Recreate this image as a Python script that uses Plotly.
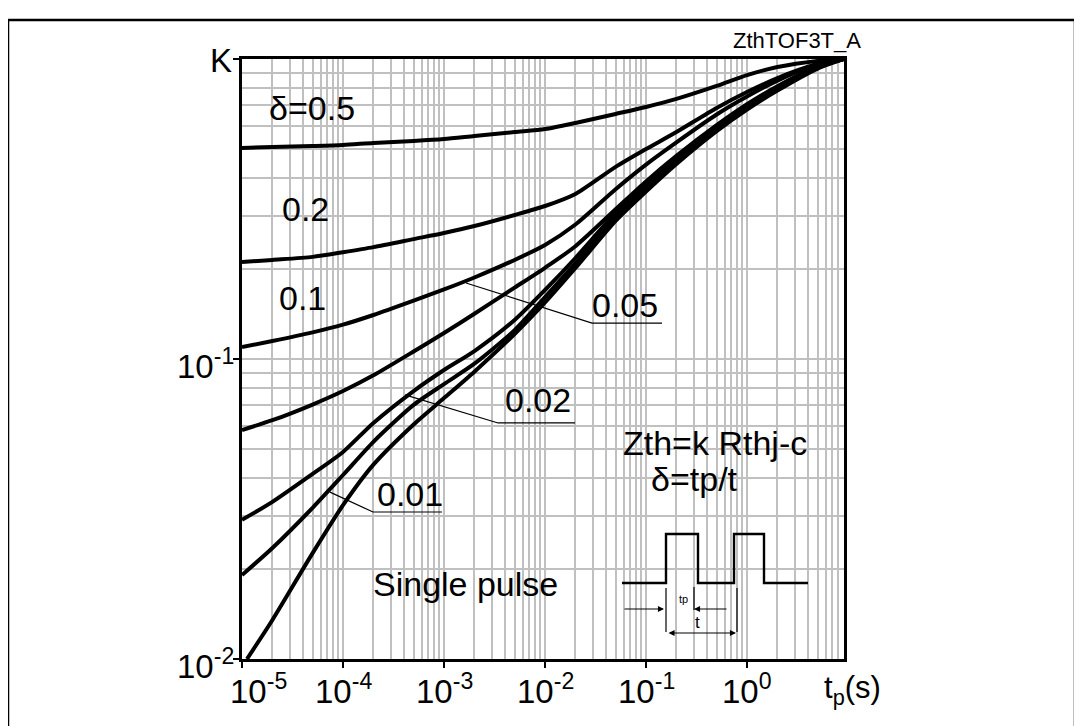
import plotly.graph_objects as go

# ---------------- data ----------------
t_grid = [1e-5, 2e-5, 5e-5, 1e-4, 2e-4, 5e-4, 1e-3, 2e-3, 5e-3, 1e-2,
          2e-2, 5e-2, 0.1, 0.2, 0.5, 1.0, 2.0, 5.0, 9.1]
t_single = [1.12e-5, 2e-5, 5e-5, 1e-4, 2e-4, 5e-4, 1e-3, 2e-3, 5e-3, 1e-2,
            2e-2, 5e-2, 0.1, 0.2, 0.5, 1.0, 2.0, 5.0, 9.1]

k_d050 = [0.505, 0.509, 0.513, 0.517, 0.525, 0.533, 0.541, 0.554, 0.571, 0.584,
          0.612, 0.656, 0.692, 0.736, 0.813, 0.884, 0.940, 0.985, 1.0]
k_d020 = [0.2105, 0.214, 0.219, 0.227, 0.236, 0.251, 0.263, 0.2775, 0.302, 0.3236,
          0.355, 0.437, 0.501, 0.571, 0.687, 0.776, 0.864, 0.962, 1.0]
k_d010 = [0.1096, 0.1148, 0.1227, 0.1302, 0.1402, 0.1565, 0.1705, 0.1869, 0.2139, 0.2400,
          0.2807, 0.3681, 0.4446, 0.5272, 0.6531, 0.7499, 0.8472, 0.9638, 1.0]
k_d005 = [0.0580, 0.0625, 0.0705, 0.0782, 0.0882, 0.1059, 0.1221, 0.1415, 0.1730, 0.2014,
          0.2377, 0.3155, 0.3908, 0.4753, 0.6016, 0.7067, 0.8114, 0.9470, 1.0]
k_d002 = [0.0291, 0.0334, 0.0414, 0.0490, 0.0612, 0.0782, 0.0919, 0.1063, 0.1349, 0.1698,
          0.2171, 0.3067, 0.3831, 0.4677, 0.593, 0.697, 0.8065, 0.940, 1.0]
k_d001 = [0.01905, 0.02344, 0.03192, 0.04105, 0.05297, 0.0703, 0.0825, 0.09646, 0.1248, 0.1608,
          0.2082, 0.2960, 0.3701, 0.4552, 0.5784, 0.6842, 0.7912, 0.935, 1.0]
k_single = [0.0100, 0.01349, 0.02253, 0.03256, 0.04444, 0.0605, 0.07407, 0.09073, 0.1211, 0.1543,
            0.2010, 0.2886, 0.3616, 0.4470, 0.5750, 0.6786, 0.7848, 0.9290, 1.0]

# leader lines of the curve labels
lead_005_t = [1.651e-3, 2.918e-2, 0.1440]
lead_005_k = [0.1792, 0.1318, 0.1318]
lead_002_t = [4.11e-4, 3.426e-3, 1.98e-2]
lead_002_k = [0.0759, 0.0612, 0.0612]
lead_001_t = [7.43e-5, 1.98e-4, 9.55e-4]
lead_001_k = [0.0360, 0.0309, 0.0309]

x_decades = [-5, -4, -3, -2, -1, 0]
x_tick_text = ["10<sup>-5</sup>", "10<sup>-4</sup>", "10<sup>-3</sup>",
               "10<sup>-2</sup>", "10<sup>-1</sup>", "10<sup>0</sup>"]
y_decades = [-2, -1, 0]
y_tick_text = ["10<sup>-2</sup>", "10<sup>-1</sup>", "K"]

# ---------------- layout geometry ----------------
W, H = 1082, 726
OFF = 8  # page body margin of the browser
L, T = 242 - OFF, 59 - OFF
PW, PH = 602, 600
R = W - L - PW
B = H - T - PH
XR = [-5, 0.96]
YR = [-2, 0]
FONT = "Liberation Sans, Arial, sans-serif"
GRID = "#c0c0c0"


def P(px, py):
    """reference screen pixel -> paper coordinates"""
    return ((px - OFF - L) / PW, (T + PH - (py - OFF)) / PH)


fig = go.Figure()

curve_line = dict(color="black", width=4, shape="spline", smoothing=0.7)
for tt, kk in [(t_grid, k_d050), (t_grid, k_d020), (t_grid, k_d010), (t_grid, k_d005),
               (t_grid, k_d002), (t_grid, k_d001), (t_single, k_single)]:
    fig.add_trace(go.Scatter(x=tt, y=kk, mode="lines", line=curve_line,
                             hoverinfo="skip", showlegend=False))

for tt, kk in [(lead_005_t, lead_005_k), (lead_002_t, lead_002_k), (lead_001_t, lead_001_k)]:
    fig.add_trace(go.Scatter(x=tt, y=kk, mode="lines", line=dict(color="black", width=1.2),
                             hoverinfo="skip", showlegend=False))

minor_x = [m * 10 ** e for e in range(-5, 1) for m in range(2, 10)]
minor_y = [m * 10 ** e for e in range(-2, 0) for m in range(2, 10)]

fig.update_xaxes(type="log", range=XR, showgrid=True, gridcolor=GRID, gridwidth=1.6,
                 tickvals=[10 ** d for d in x_decades], showticklabels=False,
                 ticks="outside", ticklen=6, tickwidth=1.5, tickcolor="black",
                 showline=True, linecolor="black", linewidth=2.5, mirror=True,
                 zeroline=False,
                 minor=dict(tickvals=minor_x, showgrid=True, gridcolor=GRID,
                            gridwidth=1.6, ticks=""))
fig.update_yaxes(type="log", range=YR, showgrid=True, gridcolor=GRID, gridwidth=1.6,
                 tickvals=[10 ** d for d in y_decades], showticklabels=False,
                 ticks="outside", ticklen=6, tickwidth=1.5, tickcolor="black",
                 showline=True, linecolor="black", linewidth=2.5, mirror=True,
                 zeroline=False,
                 minor=dict(tickvals=minor_y, showgrid=True, gridcolor=GRID,
                            gridwidth=1.6, ticks=""))

shapes = []
# white label boxes that hide the grid
for (x0, x1, y0, y1) in [(260, 363, 82, 129), (260, 363, 188, 235), (257, 333, 277, 325),
                         (587, 663, 280, 327), (495, 580, 380, 427), (370, 443, 472, 518),
                         (365, 567, 563, 610), (603, 828, 420, 645)]:
    a = P(x0, y0)
    b = P(x1, y1)
    shapes.append(dict(type="rect", xref="paper", yref="paper", x0=a[0], x1=b[0],
                       y0=b[1], y1=a[1], fillcolor="white", line=dict(width=0),
                       layer="between"))

# pulse waveform
wave = [(622, 583), (666, 583), (666, 534), (698, 534), (698, 583), (734, 583),
        (734, 534), (764, 534), (764, 583), (808, 583)]
path = ""
for i, (px, py) in enumerate(wave):
    q = P(px, py)
    path += ("M" if i == 0 else "L") + f"{q[0]:.5f},{q[1]:.5f} "
shapes.append(dict(type="path", xref="paper", yref="paper", path=path,
                   line=dict(color="black", width=2.4), layer="above"))
for (px, y0, y1) in [(666, 588, 632), (737, 588, 632), (694, 587, 610)]:
    a = P(px, y0)
    b = P(px, y1)
    shapes.append(dict(type="line", xref="paper", yref="paper", x0=a[0], x1=b[0],
                       y0=a[1], y1=b[1], line=dict(color="black", width=1.2)))

# outer frame
a = P(8, 20)
b = P(1075, 770)
shapes.append(dict(type="rect", xref="paper", yref="paper", x0=a[0], x1=b[0],
                   y0=b[1], y1=a[1], line=dict(color="black", width=2.5),
                   fillcolor="rgba(0,0,0,0)"))

ann = []


def text(px, py, s, size, anchor="center", family=FONT, yanchor="middle"):
    q = P(px, py)
    ann.append(dict(xref="paper", yref="paper", x=q[0], y=q[1], text=s, showarrow=False,
                    xanchor=anchor, yanchor=yanchor,
                    font=dict(family=family, size=size, color="black")))


# curve labels
text(312, 108, "δ=0.5", 34)
text(305, 209, "0.2", 34)
text(302, 298, "0.1", 34)
text(625, 305, "0.05", 34)
text(538, 400, "0.02", 34)
text(410, 494, "0.01", 34)
text(465, 584, "Single pulse", 34)
text(715, 443, "Zth=k Rthj-c", 34)
text(694, 479, "δ=tp/t", 34)
text(797, 41, "ZthTOF3T_A", 22)
text(852, 690, "t<sub>p</sub>(s)", 31)
text(683, 599, "tp", 11)
text(697, 622, "t", 17)

# tick labels
for d, s in zip(x_decades, x_tick_text):
    xp = (d - XR[0]) / (XR[1] - XR[0])
    ann.append(dict(xref="paper", yref="paper", x=xp, y=P(0, 666)[1], text=s,
                    showarrow=False, xanchor="center", yanchor="top",
                    xshift=16 if d == -5 else 0,
                    font=dict(family=FONT, size=33, color="black")))
for d, s in zip(y_decades, y_tick_text):
    yp = (d - YR[0]) / (YR[1] - YR[0])
    ann.append(dict(xref="paper", yref="paper", x=P(236 if d != 0 else 234, 0)[0], y=yp,
                    text=s, showarrow=False, xanchor="right", yanchor="middle",
                    yshift=-1 if d == 0 else -5,
                    font=dict(family=FONT, size=33, color="black")))


# arrows of the pulse sketch
def arrow(px, py, axp, ayp, both=False):
    q = P(px, py)
    ann.append(dict(xref="paper", yref="paper", x=q[0], y=q[1], ax=axp, ay=ayp,
                    axref="pixel", ayref="pixel", text="", showarrow=True,
                    arrowhead=2, arrowsize=1.1, arrowwidth=1.1, arrowcolor="black",
                    arrowside="end+start" if both else "end", standoff=0, startstandoff=0))


arrow(664, 609, -41, 0)
arrow(694, 609, 34, 0)
arrow(736, 633, -69, 0, both=True)

fig.update_layout(width=W, height=H, margin=dict(l=L, r=R, t=T, b=B, pad=0),
                  plot_bgcolor="white", paper_bgcolor="white",
                  shapes=shapes, annotations=ann, showlegend=False,
                  font=dict(family=FONT, color="black"))

fig.write_html("out.html")
